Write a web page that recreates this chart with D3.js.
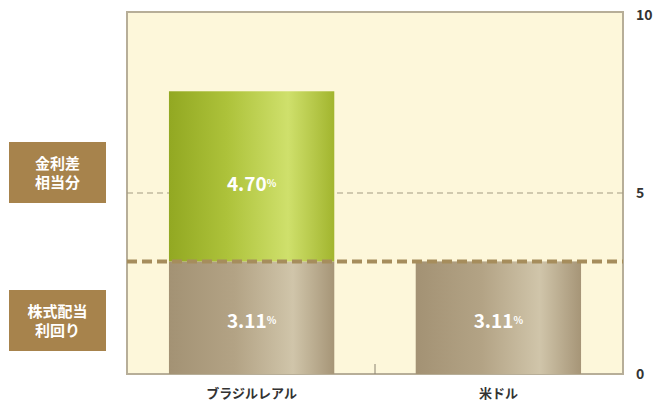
<!DOCTYPE html>
<html>
<head>
<meta charset="utf-8">
<script src="https://cdn.jsdelivr.net/npm/d3@7"></script>
<style>
  body { margin: 0; background: #fff; }
  text { font-family: "Noto Sans CJK JP", "Noto Sans", sans-serif; }
</style>
</head>
<body>
<script>
// data
var categories = ["ブラジルレアル", "米ドル"];
var dividendYield = [3.11, 3.11];   // 株式配当利回り
var rateSpread = [4.70, 0];         // 金利差相当分
var segmentNames = ["金利差\n相当分", "株式配当\n利回り"];
var yTicks = [0, 5, 10];

var width = 661, height = 410;
// plot edges (note: "top" is reserved on window, so use plot* names)
var plotLeft = 127, plotRight = 623, plotTop = 12, plotBottom = 374;

var svg = d3.select("body").append("svg")
    .attr("width", width)
    .attr("height", height);

var x = d3.scaleBand()
    .domain(categories)
    .range([plotLeft, plotRight])
    .paddingInner(0.33)
    .paddingOuter(0.17);

var y = d3.scaleLinear().domain([0, 10]).range([plotBottom, plotTop]);

// gradients
var defs = svg.append("defs");
function grad(id, stops) {
    var g = defs.append("linearGradient").attr("id", id)
        .attr("x1", "0%").attr("x2", "100%").attr("y1", "0%").attr("y2", "0%");
    stops.forEach(function(s) {
        g.append("stop").attr("offset", s[0]).attr("stop-color", s[1]);
    });
}
grad("gGreen", [["0%", "#92a822"], ["35%", "#adc23a"], ["72%", "#cfe06c"], ["100%", "#a2b52e"]]);
grad("gBrown", [["0%", "#a39274"], ["40%", "#b3a385"], ["75%", "#d0c5aa"], ["100%", "#a69577"]]);

// plot background
svg.append("rect")
    .attr("x", plotLeft).attr("y", plotTop)
    .attr("width", plotRight - plotLeft).attr("height", plotBottom - plotTop)
    .attr("fill", "#fdf7da")
    .attr("stroke", "#b7ae98")
    .attr("stroke-width", 2);

// thin dashed line at 5
svg.append("line")
    .attr("x1", plotLeft).attr("x2", plotRight)
    .attr("y1", y(5)).attr("y2", y(5))
    .attr("stroke", "#a39b82")
    .attr("stroke-width", 1)
    .attr("stroke-dasharray", "6,4");

// bars: dividend part
svg.selectAll("rect.div")
    .data(categories)
    .enter().append("rect")
    .attr("class", "div")
    .attr("x", function(d) { return x(d); })
    .attr("width", x.bandwidth())
    .attr("y", function(d, i) { return y(dividendYield[i]); })
    .attr("height", function(d, i) { return y(0) - y(dividendYield[i]); })
    .attr("fill", "url(#gBrown)");

// bars: rate spread part
svg.selectAll("rect.spread")
    .data(categories.filter(function(d, i) { return rateSpread[i] > 0; }))
    .enter().append("rect")
    .attr("class", "spread")
    .attr("x", function(d) { return x(d); })
    .attr("width", x.bandwidth())
    .attr("y", function(d) {
        var i = categories.indexOf(d);
        return y(dividendYield[i] + rateSpread[i]);
    })
    .attr("height", function(d) {
        var i = categories.indexOf(d);
        return y(dividendYield[i]) - y(dividendYield[i] + rateSpread[i]);
    })
    .attr("fill", "url(#gGreen)");

// thick dashed line at dividend yield
svg.append("line")
    .attr("x1", plotLeft).attr("x2", plotRight)
    .attr("y1", y(dividendYield[0])).attr("y2", y(dividendYield[0]))
    .attr("stroke", "#a68d5c")
    .attr("stroke-width", 4)
    .attr("stroke-dasharray", "10,5");

// value labels
function valueLabel(cx, cy, v) {
    var t = svg.append("text")
        .attr("x", cx).attr("y", cy)
        .attr("text-anchor", "middle")
        .attr("dominant-baseline", "central")
        .attr("fill", "#fff")
        .attr("font-weight", "bold");
    t.append("tspan").attr("font-size", 19).text(v.toFixed(2));
    t.append("tspan").attr("font-size", 10).text("%");
}
categories.forEach(function(c, i) {
    var cx = x(c) + x.bandwidth() / 2;
    valueLabel(cx, (y(0) + y(dividendYield[i])) / 2 + 1, dividendYield[i]);
    if (rateSpread[i] > 0)
        valueLabel(cx, (y(dividendYield[i]) + y(5)) / 2 - 45, rateSpread[i]);
});

// small tick between categories
var mid = x(categories[1]) - x.step() * x.paddingInner() / 2;
svg.append("line")
    .attr("x1", mid).attr("x2", mid)
    .attr("y1", plotBottom).attr("y2", plotBottom - 10)
    .attr("stroke", "#8a8270").attr("stroke-width", 1);

// y axis on right
var yAxis = svg.append("g")
    .attr("transform", "translate(" + (plotRight + 10) + ",0)")
    .call(d3.axisRight(y).tickValues(yTicks).tickSize(0).tickFormat(d3.format("d")));
yAxis.select(".domain").remove();
yAxis.selectAll("text")
    .attr("font-size", 14)
    .attr("font-weight", "bold")
    .attr("fill", "#333")
    .attr("dy", function(d) { return d === 10 ? "0.55em" : "0.32em"; })
    .attr("font-family", "Liberation Sans, Arial, sans-serif");

// x axis labels
var xAxis = svg.append("g")
    .attr("transform", "translate(0," + (plotBottom + 12) + ")")
    .call(d3.axisBottom(x).tickSize(0));
xAxis.select(".domain").remove();
xAxis.selectAll("text")
    .attr("font-size", 13)
    .attr("font-weight", "bold")
    .attr("fill", "#333");

// legend boxes on left
var boxY = [172, 320];
segmentNames.forEach(function(name, i) {
    var g = svg.append("g").attr("transform", "translate(9," + (boxY[i] - 30) + ")");
    g.append("rect")
        .attr("width", 97).attr("height", 61)
        .attr("fill", "#a7834c");
    var lines = name.split("\n");
    lines.forEach(function(l, k) {
        g.append("text")
            .attr("x", 48.5)
            .attr("y", 30 + (k - 0.5) * 19)
            .attr("text-anchor", "middle")
            .attr("dominant-baseline", "central")
            .attr("font-size", 15)
            .attr("font-weight", "bold")
            .attr("fill", "#fff")
            .text(l);
    });
});
</script>
</body>
</html>
